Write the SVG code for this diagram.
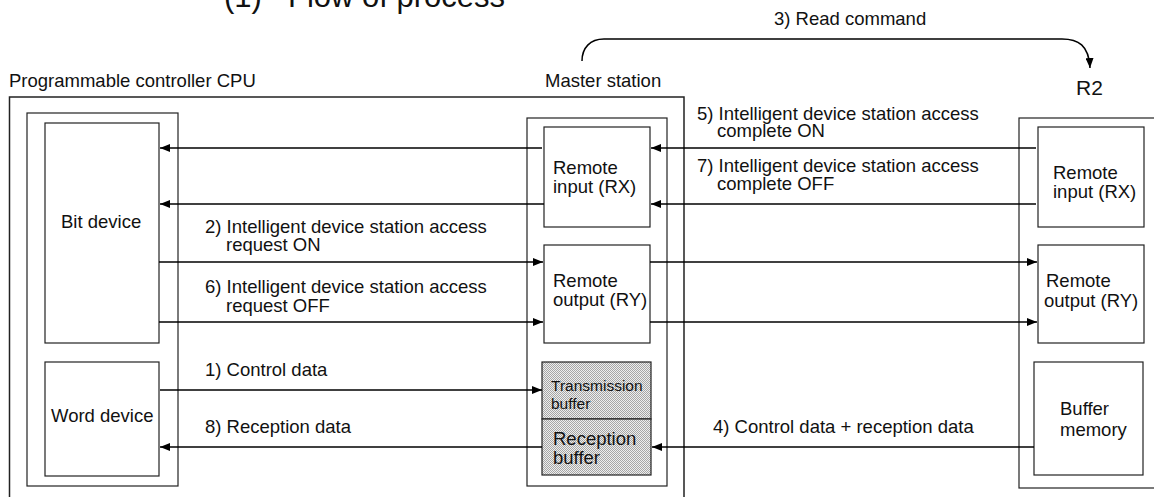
<svg xmlns="http://www.w3.org/2000/svg" width="1154" height="497" viewBox="0 0 1154 497">
<style>
text{font-family:"Liberation Sans",Arial,sans-serif;font-size:18.5px;fill:#111}
.box{fill:#fff;stroke:#222;stroke-width:1.2}
.frame{fill:none;stroke:#222;stroke-width:1.5}
.c{fill:none;stroke:#000;stroke-width:1.5}
.sm{font-size:15.5px}
.ttl{font-size:31px}
</style>
<defs>
<marker id="ah" markerWidth="10" markerHeight="8" refX="10" refY="4" orient="auto" markerUnits="userSpaceOnUse">
<path d="M0,0 L10,4 L0,8 Z" fill="#000"/>
</marker>
<pattern id="dots" width="2" height="2" patternUnits="userSpaceOnUse">
<rect width="2" height="2" fill="#eeeeee"/>
<rect width="1" height="1" fill="#a6a6a6"/>
<rect x="1" y="1" width="1" height="1" fill="#a6a6a6"/>
</pattern>
</defs>
<rect width="1154" height="497" fill="#fff"/>
<g id="title"><text class="ttl" x="224" y="7">(1)</text><text class="ttl" x="288" y="7">Flow of process</text></g>
<g id="cpu">
<path class="frame" d="M9.5,500 V97 H684 V500"/>
<text x="9" y="87">Programmable controller CPU</text>
<rect class="box" x="27" y="113" width="151" height="373"/>
</g>
<g id="bit-device"><rect class="box" x="45" y="123" width="114" height="220"/><text x="61" y="228">Bit device</text></g>
<g id="word-device"><rect class="box" x="45" y="362" width="114" height="114"/><text x="51" y="422">Word device</text></g>
<g id="master">
<text x="545" y="87">Master station</text>
<rect class="box" x="527" y="118" width="140" height="368"/>
</g>
<g id="master-rx"><rect class="box" x="544" y="127" width="106" height="100"/><text x="553" y="174">Remote</text><text x="553" y="193">input (RX)</text></g>
<g id="master-ry"><rect class="box" x="544" y="245" width="106" height="98"/><text x="553" y="287">Remote</text><text x="553" y="306">output (RY)</text></g>
<g id="tx-buffer"><rect x="542" y="362" width="109" height="57" fill="url(#dots)" stroke="#222" stroke-width="1.2"/><text class="sm" x="551" y="391">Transmission</text><text class="sm" x="551" y="409">buffer</text></g>
<g id="rx-buffer"><rect x="542" y="419" width="109" height="56" fill="url(#dots)" stroke="#222" stroke-width="1.2"/><text x="553" y="445">Reception</text><text x="553" y="464">buffer</text></g>
<g id="r2">
<text x="1076" y="95" style="font-size:21px">R2</text>
<rect class="box" x="1019" y="118" width="200" height="370"/>
</g>
<g id="r2-rx"><rect class="box" x="1038" y="127" width="106" height="100"/><text x="1053" y="179">Remote</text><text x="1053" y="198">input (RX)</text></g>
<g id="r2-ry"><rect class="box" x="1038" y="245" width="106" height="98"/><text x="1046" y="287">Remote</text><text x="1044" y="307">output (RY)</text></g>
<g id="buffer-memory"><rect class="box" x="1034" y="362" width="109" height="113"/><text x="1060" y="415">Buffer</text><text x="1060" y="436">memory</text></g>
<g id="connectors">
<path class="c" d="M582,61 C582,48 590,39 604,39 L1062,39 C1078,39 1089,45 1090,68" marker-end="url(#ah)"/>
<text x="774" y="25">3) Read command</text>
<line class="c" x1="1036" y1="148" x2="651" y2="148" marker-end="url(#ah)"/>
<line class="c" x1="542" y1="148" x2="160" y2="148" marker-end="url(#ah)"/>
<line class="c" x1="1036" y1="204" x2="651" y2="204" marker-end="url(#ah)"/>
<line class="c" x1="544" y1="204" x2="160" y2="204" marker-end="url(#ah)"/>
<line class="c" x1="159" y1="262" x2="543" y2="262" marker-end="url(#ah)"/>
<line class="c" x1="650" y1="262" x2="1037" y2="262" marker-end="url(#ah)"/>
<line class="c" x1="159" y1="322" x2="543" y2="322" marker-end="url(#ah)"/>
<line class="c" x1="650" y1="322" x2="1037" y2="322" marker-end="url(#ah)"/>
<line class="c" x1="160" y1="390" x2="542" y2="390" marker-end="url(#ah)"/>
<line class="c" x1="1034" y1="447" x2="652" y2="447" marker-end="url(#ah)"/>
<line class="c" x1="542" y1="447" x2="160" y2="447" marker-end="url(#ah)"/>
<text x="697" y="120">5) Intelligent device station access</text>
<text x="717" y="137">complete ON</text>
<text x="697" y="172">7) Intelligent device station access</text>
<text x="717" y="190">complete OFF</text>
<text x="205" y="233">2) Intelligent device station access</text>
<text x="226" y="251">request ON</text>
<text x="205" y="293">6) Intelligent device station access</text>
<text x="226" y="312">request OFF</text>
<text x="205" y="376">1) Control data</text>
<text x="205" y="433">8) Reception data</text>
<text x="713" y="433">4) Control data + reception data</text>
</g>
</svg>
